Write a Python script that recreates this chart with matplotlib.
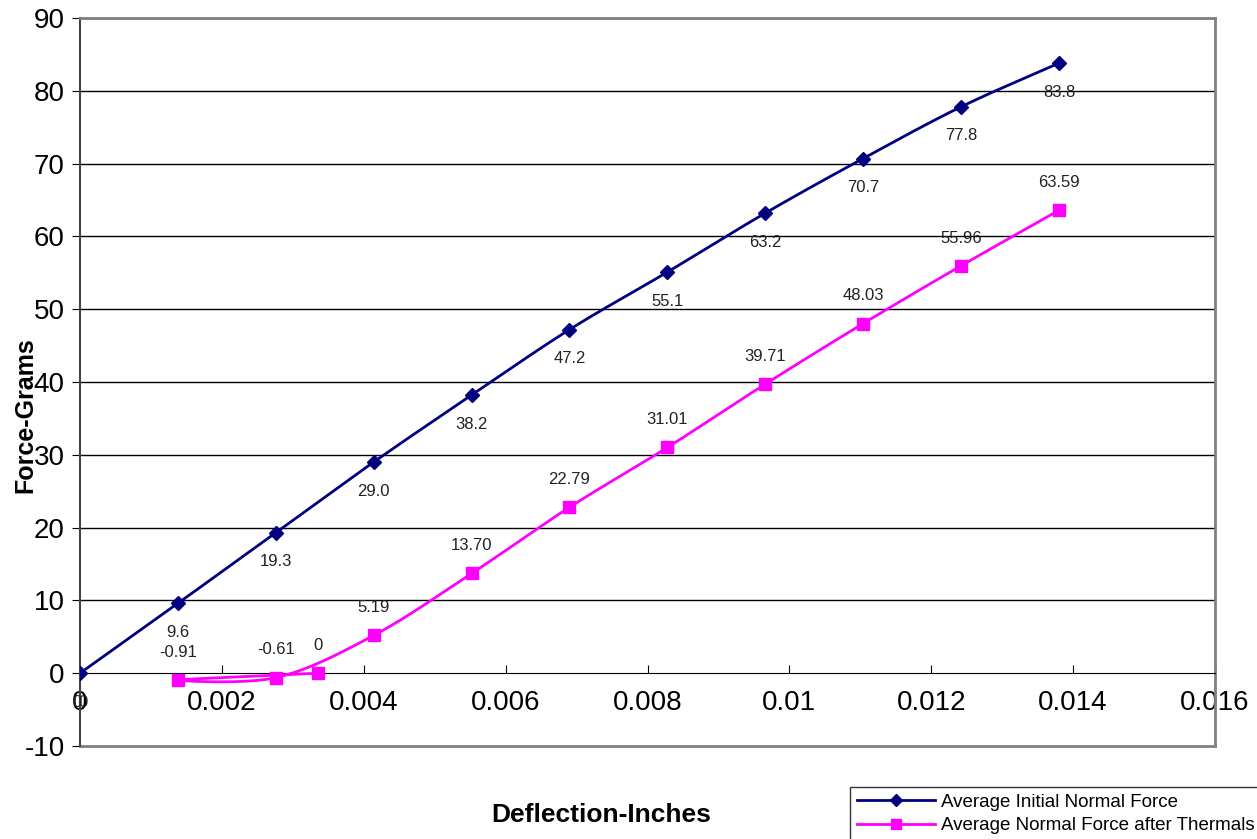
import numpy as np
import matplotlib.pyplot as plt

plt.rcParams['font.family'] = ['Liberation Sans', 'DejaVu Sans']
plt.rcParams['axes.unicode_minus'] = False

# Average Initial Normal Force
x_init = [0.0, 0.00138, 0.00276, 0.00414, 0.00552, 0.0069, 0.00828, 0.00966, 0.01104, 0.01242, 0.0138]
y_init = [0.0, 9.6, 19.3, 29.0, 38.2, 47.2, 55.1, 63.2, 70.7, 77.8, 83.8]
lab_init = ["0", "9.6", "19.3", "29.0", "38.2", "47.2", "55.1", "63.2", "70.7", "77.8", "83.8"]

# Average Normal Force after Thermals (in series order)
x_therm = [0.00336, 0.00138, 0.00276, 0.00414, 0.00552, 0.0069, 0.00828, 0.00966, 0.01104, 0.01242, 0.0138]
y_therm = [0.0, -0.91, -0.61, 5.19, 13.70, 22.79, 31.01, 39.71, 48.03, 55.96, 63.59]
lab_therm = ["0", "-0.91", "-0.61", "5.19", "13.70", "22.79", "31.01", "39.71", "48.03", "55.96", "63.59"]

NAVY = "#000080"
PINK = "#ff00ff"


def smooth(xs, ys, n=30):
    # catmull-rom like Excel's smoothed line
    p = np.column_stack([xs, ys]).astype(float)
    p = np.vstack([2 * p[0] - p[1], p, 2 * p[-1] - p[-2]])
    out = []
    t = np.linspace(0, 1, n)[:, None]
    for i in range(1, len(p) - 2):
        p0, p1, p2, p3 = p[i - 1], p[i], p[i + 1], p[i + 2]
        seg = 0.5 * ((2 * p1) + (-p0 + p2) * t + (2 * p0 - 5 * p1 + 4 * p2 - p3) * t ** 2
                     + (-p0 + 3 * p1 - 3 * p2 + p3) * t ** 3)
        out.append(seg)
    out = np.vstack(out)
    return out[:, 0], out[:, 1]


fig = plt.figure(figsize=(12.57, 8.39), dpi=100)
ax = fig.add_axes([80 / 1257, 1 - 746 / 839, 1135 / 1257, 728 / 839])

sx, sy = smooth(x_init, y_init)
ax.plot(sx, sy, color=NAVY, lw=2, zorder=3)
ax.plot(x_init, y_init, ls="none", marker="D", ms=7, color=NAVY, zorder=4)
sx, sy = smooth(x_therm, y_therm)
ax.plot(sx, sy, color=PINK, lw=2, zorder=3)
ax.plot(x_therm, y_therm, ls="none", marker="s", ms=8, color=PINK, zorder=4)

# legend proxies
h1, = ax.plot([], [], color=NAVY, lw=2, marker="D", ms=6)
h2, = ax.plot([], [], color=PINK, lw=2, marker="s", ms=7)

for x, y, s in zip(x_init, y_init, lab_init):
    dx = -2 if s == "0" else 0
    ax.annotate(s, (x, y), xytext=(dx, -21), textcoords="offset points", ha="center",
                va="center", fontsize=12, color="#222222", zorder=5)
for x, y, s in zip(x_therm, y_therm, lab_therm):
    ax.annotate(s, (x, y), xytext=(0, 20), textcoords="offset points", ha="center",
                va="center", fontsize=12, color="#222222", zorder=5)
ax.annotate("0", (0, 0), xytext=(2, -21), textcoords="offset points", ha="center",
            va="center", fontsize=12, color="#222222", zorder=5)

ax.set_xlim(0, 0.016)
ax.set_ylim(-10, 90)
ax.set_xticks(np.arange(0, 0.0161, 0.002))
ax.set_xticklabels(["0", "0.002", "0.004", "0.006", "0.008", "0.01", "0.012", "0.014", "0.016"])
ax.set_yticks(range(-10, 91, 10))

for y in range(10, 91, 10):
    ax.axhline(y, color="black", lw=1, zorder=1)

ax.spines['bottom'].set_position(('data', 0))
ax.spines['bottom'].set_color("black")
ax.spines['left'].set_color("#444444")
ax.spines['left'].set_linewidth(1.5)
ax.spines['top'].set_color("#808080")
ax.spines['right'].set_color("#808080")
ax.spines['top'].set_linewidth(2)
ax.spines['right'].set_linewidth(2)
ax.axhline(-10, color="#808080", lw=2, zorder=2, clip_on=False)

ax.tick_params(axis="x", direction="in", length=6, labelsize=20, pad=12, color="black")
ax.tick_params(axis="y", direction="out", length=6, labelsize=20, pad=5)
for lab in ax.get_xticklabels():
    lab.set_zorder(6)

fig.text(25 / 1257, 1 - 415 / 839, "Force-Grams", rotation=90, ha="center", va="center",
         fontsize=18, fontweight="bold")
fig.text(601 / 1257, 1 - 815 / 839, "Deflection-Inches", ha="center", va="center",
         fontsize=19, fontweight="bold")

leg = fig.legend([h1, h2], ["Average Initial Normal Force", "Average Normal Force after Thermals"],
                 loc="upper left", bbox_to_anchor=(850 / 1257, 1 - 787 / 839), fontsize=13.5,
                 frameon=True, fancybox=False, edgecolor="black", handlelength=4.2,
                 handletextpad=0.3, borderpad=0.35, labelspacing=0.35, borderaxespad=0)
leg.get_frame().set_linewidth(1)

fig.savefig("out.png", dpi=100)
